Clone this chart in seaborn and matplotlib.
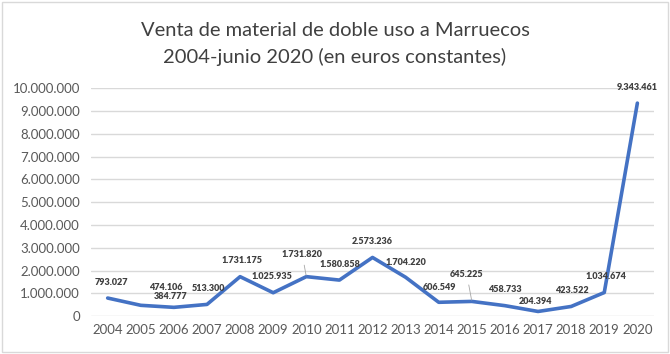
import pandas as pd
import numpy as np
import matplotlib.pyplot as plt
import seaborn as sns
from matplotlib.patches import Rectangle

# datos: venta de material de doble uso a Marruecos (euros constantes)
years = ['2004', '2005', '2006', '2007', '2008', '2009', '2010', '2011', '2012',
         '2013', '2014', '2015', '2016', '2017', '2018', '2019', '2020']
ventas = [793027, 474106, 384777, 513300, 1731175, 1025935, 1731820, 1580858, 2573236,
          1704220, 606549, 645225, 458733, 204394, 423522, 1034674, 9343461]
etiquetas = ['793.027', '474.106', '384.777', '513.300', '1.731.175', '1.025.935', '1.731.820',
             '1.580.858', '2.573.236', '1.704.220', '606.549', '645.225', '458.733', '204.394',
             '423.522', '1.034.674', '9.343.461']
ytick_labels = ['0', '1.000.000', '2.000.000', '3.000.000', '4.000.000', '5.000.000',
                '6.000.000', '7.000.000', '8.000.000', '9.000.000', '10.000.000']

df = pd.DataFrame({'Year': years, 'Ventas': ventas})

sns.set_style('white')
plt.rcParams['font.family'] = ['Lato', 'DejaVu Sans']

fig = plt.figure(figsize=(6.7, 3.54), dpi=100)
ax = fig.add_axes([0.136, 0.107, 0.840, 0.644])

sns.lineplot(data=df, x='Year', y='Ventas', ax=ax, color='#4472C4', linewidth=2.6, sort=False)

ax.set_xlim(-0.5, len(years) - 0.5)
ax.set_ylim(0, 10000000)
ax.set_yticks(np.arange(0, 10000001, 1000000))
ax.set_yticklabels(ytick_labels)
ax.yaxis.grid(True, color='#D9D9D9', linewidth=1)
ax.set_axisbelow(True)
for s in ax.spines.values():
    s.set_visible(False)
ax.tick_params(axis='both', length=0, labelsize=9.5, colors='#595959', pad=6)
ax.tick_params(axis='y', pad=8)
ax.set_xlabel('')
ax.set_ylabel('')

# desplazamientos de las etiquetas (px)
offsets = [(4, -16), (25, -18), (-3, -11), (1, -16), (2, -16), (-1, -16), (-4, -22),
           (1, -16), (0, -16), (0, -15), (1, -15), (-5, -27), (0, -16), (-3, -10),
           (1, -16), (2, -16), (0, -16)]
for i, (lab, v) in enumerate(zip(etiquetas, ventas)):
    dx, dy = offsets[i]
    arrow = None
    if i in (6, 11):
        arrow = dict(arrowstyle='-', color='#A6A6A6', linewidth=0.6, shrinkA=2, shrinkB=1)
    ax.annotate(lab, (i, v), xytext=(dx * 0.72, -dy * 0.72), textcoords='offset points',
                ha='center', va='center', fontsize=6.5, fontweight='heavy', color='#404040',
                arrowprops=arrow)

fig.text(0.5, 0.915, 'Venta de material de doble uso a Marruecos', ha='center', va='center',
         fontsize=14.5, color='#404040')
fig.text(0.5, 0.84, '2004-junio 2020 (en euros constantes)', ha='center', va='center',
         fontsize=14.5, color='#404040')

fig.patches.append(Rectangle((0.003, 0.005), 0.994, 0.99, transform=fig.transFigure,
                             fill=False, edgecolor='#D9D9D9', linewidth=1))

fig.savefig('out.png', dpi=100)
